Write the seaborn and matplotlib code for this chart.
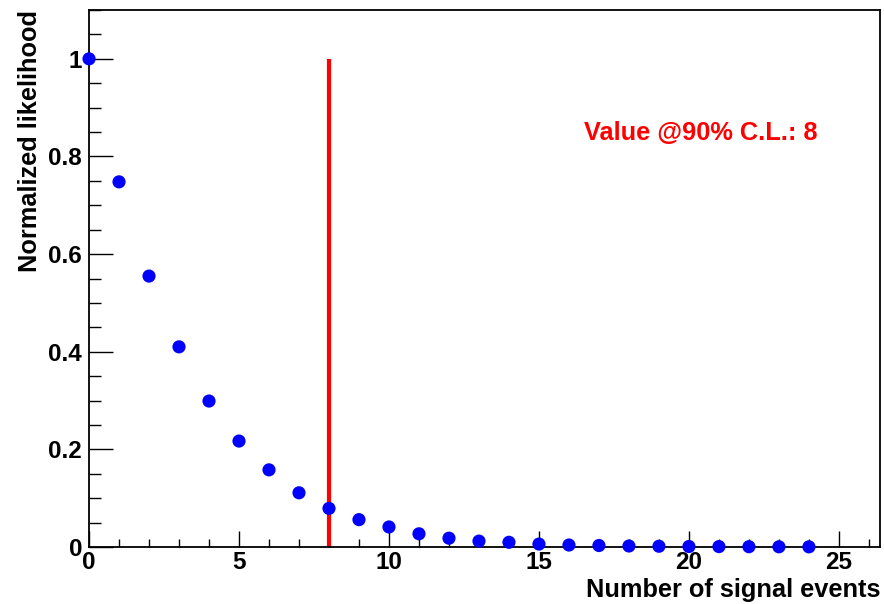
import pandas as pd
import seaborn as sns
import matplotlib.pyplot as plt
from matplotlib.ticker import MultipleLocator

sns.set_style('ticks')
plt.rcParams['font.family'] = ['Liberation Sans', 'DejaVu Sans']
plt.rcParams['font.weight'] = 'bold'

# signal event counts and their normalized likelihoods
n_signal = list(range(25))
likelihood = [1.0, 0.748, 0.555, 0.41, 0.299, 0.217, 0.158, 0.111, 0.079,
              0.056, 0.041, 0.027, 0.018, 0.012, 0.0096, 0.006, 0.004,
              0.003, 0.002, 0.0015, 0.001, 0.0008, 0.0006, 0.0004, 0.0003]
limit_value = 8
limit_label = 'Value @90% C.L.: 8'

df = pd.DataFrame({'n': n_signal, 'L': likelihood})

fig = plt.figure(figsize=(8.84, 6.04), dpi=100)
ax = fig.add_axes([0.1007, 0.0944, 0.8948, 0.889])

# red line at the 90% C.L. value
ax.vlines(limit_value, 0, 1, color='red', linewidth=3, zorder=2)
sns.scatterplot(x='n', y='L', data=df, ax=ax, color='blue', s=90,
                edgecolor='none', zorder=3, clip_on=False)

ax.set_xlim(0, 26.37)
ax.set_ylim(0, 1.1)
ax.xaxis.set_major_locator(MultipleLocator(5))
ax.xaxis.set_minor_locator(MultipleLocator(1))
ax.yaxis.set_minor_locator(MultipleLocator(0.05))
ax.set_yticks([0, 0.2, 0.4, 0.6, 0.8, 1.0])
ax.set_yticklabels(['0', '0.2', '0.4', '0.6', '0.8', '1'])

ax.tick_params(axis='x', which='major', direction='in', length=11.5,
               width=1, labelsize=17.5, pad=3, top=False, color='black',
               labelcolor='black')
ax.tick_params(axis='x', which='minor', direction='in', length=6, width=1,
               color='black')
ax.tick_params(axis='y', which='major', direction='in', length=17,
               width=1, labelsize=17.5, pad=5, right=False, color='black',
               labelcolor='black')
ax.tick_params(axis='y', which='minor', direction='in', length=8.6, width=1,
               color='black')
for lbl in ax.get_xticklabels() + ax.get_yticklabels():
    lbl.set_fontweight('bold')

for sp in ax.spines.values():
    sp.set_visible(True)
    sp.set_linewidth(1.3)
    sp.set_color('black')

ax.set_xlabel('Number of signal events', fontsize=18.3, fontweight='bold',
              color='black')
ax.xaxis.set_label_coords(1.0, -0.058)
ax.xaxis.label.set_horizontalalignment('right')
ax.set_ylabel('Normalized likelihood', fontsize=18.3, fontweight='bold',
              color='black')
ax.yaxis.set_label_coords(-0.06, 1.0)
ax.yaxis.label.set_horizontalalignment('right')

ax.text(16.5, 0.848, limit_label, color='red', fontsize=18.3,
        fontweight='bold', va='center')

fig.savefig('out.png', dpi=100)
